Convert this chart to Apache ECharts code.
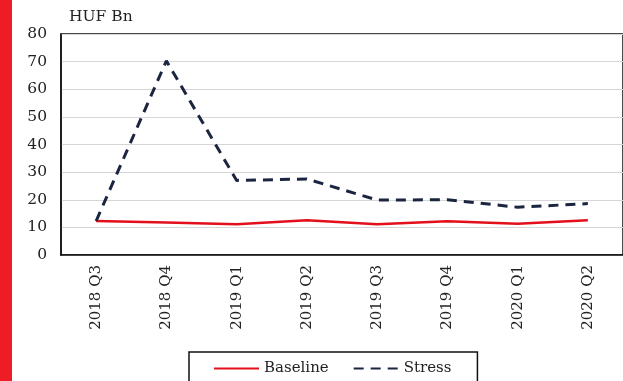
<!DOCTYPE html>
<html>
<head>
<meta charset="utf-8">
<script src="https://cdn.jsdelivr.net/npm/echarts@6/dist/echarts.min.js"></script>
<style>
  html, body { margin: 0; padding: 0; background: #fff; }
  #chart { width: 623px; height: 381px; }
</style>
</head>
<body>
<div id="chart"></div>
<script>
// Quarterly values, HUF billions
const quarters = ['2018 Q3', '2018 Q4', '2019 Q1', '2019 Q2', '2019 Q3', '2019 Q4', '2020 Q1', '2020 Q2'];
const baseline = [12.3, 11.8, 11.1, 12.6, 11.1, 12.2, 11.3, 12.6];
const stress = [12.3, 70.3, 27.0, 27.5, 19.9, 20.0, 17.3, 18.6];
const yTicks = { min: 0, max: 80, interval: 10 };
const unitLabel = 'HUF Bn';

const serif = 'DejaVu Serif';
const chart = echarts.init(document.getElementById('chart'), null, { renderer: 'canvas' });

chart.setOption({
  animation: false,
  backgroundColor: '#fff',
  textStyle: { fontFamily: serif },
  grid: {
    left: 61, top: 34, bottom: 126, right: -8,
    show: true, borderColor: '#111', borderWidth: 1.5, backgroundColor: 'transparent'
  },
  graphic: [
    // red side bar along the left edge
    { type: 'rect', left: 0, top: 0, shape: { width: 12, height: 381 }, style: { fill: '#ee1c25' }, silent: true },
    { type: 'text', left: 69, top: 9, style: { text: unitLabel, font: '15.5px "DejaVu Serif"', fill: '#222' } }
  ],
  xAxis: {
    type: 'category',
    data: quarters,
    boundaryGap: true,
    axisLine: { show: true, lineStyle: { color: '#111', width: 1.5 } },
    axisTick: { show: false },
    axisLabel: { rotate: 90, margin: 10, fontSize: 15, color: '#222', fontFamily: serif, interval: 0 }
  },
  yAxis: {
    type: 'value',
    min: yTicks.min, max: yTicks.max, interval: yTicks.interval,
    axisLine: { show: true, lineStyle: { color: '#111', width: 1.5 } },
    axisTick: { show: false },
    axisLabel: { margin: 14, fontSize: 15.5, color: '#222', fontFamily: serif },
    splitLine: { show: true, lineStyle: { color: '#d6d6d6', width: 1 } }
  },
  legend: {
    left: 189, top: 352,
    data: ['Baseline', 'Stress'],
    itemWidth: 45, itemHeight: 12, itemGap: 24,
    padding: [9, 26, 20, 24],
    borderColor: '#111', borderWidth: 1.5,
    itemStyle: { opacity: 0 },
    textStyle: { fontSize: 15, color: '#222', fontFamily: serif }
  },
  series: [
    {
      name: 'Baseline', type: 'line', data: baseline,
      symbol: 'none', smooth: false,
      lineStyle: { color: '#e3101b', width: 2.5 },
      itemStyle: { color: '#e3101b' }
    },
    {
      name: 'Stress', type: 'line', data: stress,
      symbol: 'none', smooth: false,
      lineStyle: { color: '#1b2540', width: 3, type: [10, 7] },
      itemStyle: { color: '#1b2540' }
    }
  ]
});
</script>
</body>
</html>
